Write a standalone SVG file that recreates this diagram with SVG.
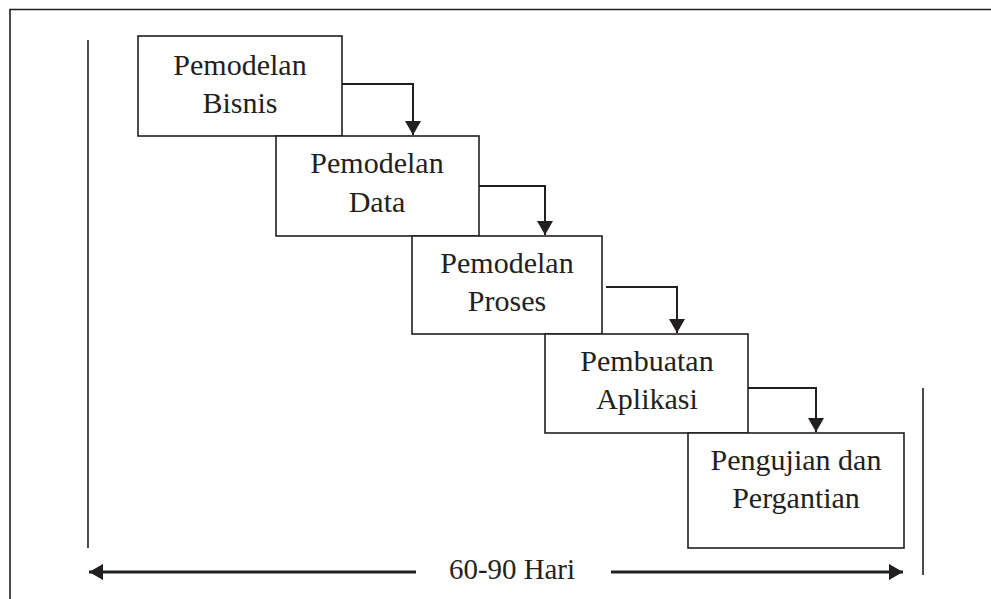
<svg xmlns="http://www.w3.org/2000/svg" width="991" height="599" viewBox="0 0 991 599">
<style>
.box{fill:#fff;stroke:#231f20;stroke-width:1.6}
.lbl{font-family:"Liberation Serif","Times New Roman",serif;font-size:30px;fill:#231f20;text-anchor:middle}
.con{fill:none;stroke:#231f20;stroke-width:2}
.rule{fill:none;stroke:#231f20;stroke-width:1.6}
.dim{fill:none;stroke:#231f20;stroke-width:3}
</style>
<defs>
<marker id="ah" viewBox="0 0 14 16" refX="14" refY="8" markerWidth="14" markerHeight="16" markerUnits="userSpaceOnUse" orient="auto">
<path d="M0,0 L14,8 L0,16 Z" fill="#231f20"/>
</marker>
<marker id="ah2" viewBox="0 0 14 16" refX="14" refY="8" markerWidth="14" markerHeight="16" markerUnits="userSpaceOnUse" orient="auto-start-reverse">
<path d="M0,0 L14,8 L0,16 Z" fill="#231f20"/>
</marker>
</defs>
<rect width="991" height="599" fill="#fff"/>
<path class="rule" d="M10,600 V9.5 H992"/>
<g id="frame-lines">
<line class="rule" x1="88" y1="40" x2="88" y2="548"/>
<line class="rule" x1="923" y1="388" x2="923" y2="575"/>
</g>
<g id="connectors">
<path class="con" d="M342,84 H413 V135" marker-end="url(#ah)"/>
<path class="con" d="M479,186 H545 V235" marker-end="url(#ah)"/>
<path class="con" d="M606,287 H677 V333" marker-end="url(#ah)"/>
<path class="con" d="M748,388 H816 V432" marker-end="url(#ah)"/>
<path class="dim" d="M416,572 H89" marker-end="url(#ah2)"/>
<path class="dim" d="M611,572 H903" marker-end="url(#ah)"/>
</g>
<g id="node1">
<rect class="box" x="138" y="36" width="204" height="100"/>
<text class="lbl" x="240" y="75">Pemodelan</text>
<text class="lbl" x="240" y="113">Bisnis</text>
</g>
<g id="node2">
<rect class="box" x="276" y="136" width="203" height="100"/>
<text class="lbl" x="377" y="173">Pemodelan</text>
<text class="lbl" x="377" y="212">Data</text>
</g>
<g id="node3">
<rect class="box" x="412" y="236" width="190" height="98"/>
<text class="lbl" x="507" y="273">Pemodelan</text>
<text class="lbl" x="507" y="311">Proses</text>
</g>
<g id="node4">
<rect class="box" x="545" y="334" width="203" height="99"/>
<text class="lbl" x="647" y="371">Pembuatan</text>
<text class="lbl" x="647" y="409">Aplikasi</text>
</g>
<g id="node5">
<rect class="box" x="688" y="433" width="216" height="115"/>
<text class="lbl" x="796" y="470">Pengujian dan</text>
<text class="lbl" x="796" y="508">Pergantian</text>
</g>
<g id="dim-label">
<text class="lbl" x="512" y="579" textLength="126" lengthAdjust="spacingAndGlyphs">60-90 Hari</text>
</g>
</svg>
